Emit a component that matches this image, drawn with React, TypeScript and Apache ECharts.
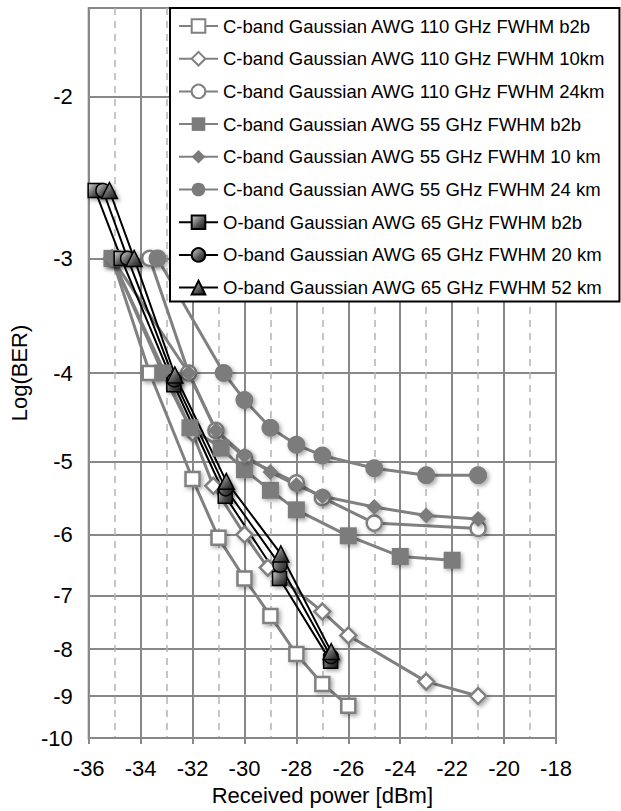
import React, { useEffect, useRef } from "react";
import * as echarts from "echarts";

// ---- data (x: received power in dBm, y: log10(BER)) ----
const seriesNames = [
  "C-band Gaussian AWG 110 GHz FWHM b2b",
  "C-band Gaussian AWG 110 GHz FWHM 10km",
  "C-band Gaussian AWG 110 GHz FWHM 24km",
  "C-band Gaussian AWG 55 GHz FWHM b2b",
  "C-band Gaussian AWG 55 GHz FWHM 10 km",
  "C-band Gaussian AWG 55 GHz FWHM 24 km",
  "O-band Gaussian AWG 65 GHz FWHM b2b",
  "O-band Gaussian AWG 65 GHz FWHM 20 km",
  "O-band Gaussian AWG 65 GHz FWHM 52 km",
];

const c110b2bX = [-35.1, -33.65, -32, -31, -30, -29, -28, -27, -26];
const c110b2bY = [-3, -4, -5.22, -6.05, -6.7, -7.36, -8.1, -8.73, -9.22];

const c110km10X = [-35.1, -32, -31.2, -30, -29.1, -27, -26, -23, -21];
const c110km10Y = [-3, -4.65, -5.31, -6.0, -6.52, -7.28, -7.73, -8.68, -9.0];

const c110km24X = [-33.65, -32.15, -31.1, -30, -28, -27, -25, -21];
const c110km24Y = [-3, -4.0, -4.62, -4.95, -5.27, -5.47, -5.83, -5.91];

const c55b2bX = [-35.1, -33.15, -32.1, -30.9, -30, -29, -28, -26, -24, -22];
const c55b2bY = [-3, -4.0, -4.59, -4.83, -5.1, -5.37, -5.64, -6.02, -6.34, -6.4];

const c55km10X = [-35.1, -32.15, -31.1, -30, -29, -28, -27, -25, -23, -21];
const c55km10Y = [-3, -4.0, -4.62, -4.92, -5.13, -5.3, -5.45, -5.6, -5.72, -5.77];

const c55km24X = [-33.35, -30.8, -30, -29, -28, -27, -25, -23, -21];
const c55km24Y = [-3, -4.0, -4.28, -4.59, -4.79, -4.92, -5.08, -5.17, -5.17];

const o65b2bX = [-35.75, -34.75, -32.72, -30.74, -28.65, -26.68];
const o65b2bY = [-2.53, -3.0, -4.12, -5.45, -6.7, -8.25];

const o65km20X = [-35.45, -34.5, -32.7, -30.72, -28.63, -26.67];
const o65km20Y = [-2.53, -3.0, -4.07, -5.35, -6.48, -8.15];

const o65km52X = [-35.2, -34.25, -32.68, -30.7, -28.6, -26.66];
const o65km52Y = [-2.53, -3.0, -4.02, -5.25, -6.3, -8.05];

const yTickLabels = [-2, -3, -4, -5, -6, -7, -8, -9, -10];
const yTop = -1.6;
const yBottom = -10;
const xMin = -36;
const xMax = -18;
const xStep = 2;

// BER axis scale: position proportional to log10(-log10(BER))
const toAxis = (L: number) => -Math.log10(-L);
const fromAxis = (v: number) => -Math.round(Math.pow(10, -v));

const zip = (xs: number[], ys: number[]) => xs.map((x, i) => [x, toAxis(ys[i])]);

const FONT = "'Liberation Sans', Arial, sans-serif";
const GRAY = "#808080";
const MARK_GRAY = "#7b7b7b";
const GRID = "#888888";

export default function App() {
  const ref = useRef<HTMLDivElement>(null);

  useEffect(() => {
    if (!ref.current) return;
    const chart = echarts.init(ref.current, undefined, { renderer: "svg" });

    const grad = () =>
      new echarts.graphic.LinearGradient(0, 0, 1, 1, [
        { offset: 0, color: "#d8d8d8" },
        { offset: 0.55, color: "#5a5a5a" },
        { offset: 1, color: "#111111" },
      ]);

    const shadow = {
      shadowColor: "rgba(0,0,0,0.35)",
      shadowBlur: 4,
      shadowOffsetX: 2,
      shadowOffsetY: 2,
    };

    const cSeries = (
      name: string,
      data: number[][],
      symbol: string,
      size: number,
      open: boolean
    ) => ({
      name,
      type: "line",
      data,
      symbol,
      symbolSize: size,
      lineStyle: { color: GRAY, width: 3 },
      itemStyle: open
        ? { color: "#ffffff", borderColor: GRAY, borderWidth: 2.5, ...shadow }
        : { color: MARK_GRAY, borderColor: MARK_GRAY, borderWidth: 0, ...shadow },
      emphasis: { disabled: true },
    });

    const oSeries = (name: string, data: number[][], symbol: string, size: number) => ({
      name,
      type: "line",
      data,
      symbol,
      symbolSize: size,
      lineStyle: { color: "#000000", width: 2 },
      itemStyle: { color: grad(), borderColor: "#000000", borderWidth: 1.5, ...shadow },
      emphasis: { disabled: true },
    });

    const option = {
      animation: false,
      backgroundColor: "#ffffff",
      textStyle: { fontFamily: FONT },
      grid: {
        left: 84,
        right: 65,
        top: 8,
        bottom: 72,
        show: true,
        borderColor: GRID,
        borderWidth: 2,
      },
      legend: {
        orient: "vertical",
        left: 170,
        top: 8,
        padding: [8, 14, 4, 8],
        backgroundColor: "#ffffff",
        borderColor: "#000000",
        borderWidth: 2,
        itemWidth: 39,
        itemHeight: 17,
        itemGap: 12.7,
        textStyle: { fontSize: 18.5, color: "#000000", fontFamily: FONT, lineHeight: 20 },
        data: seriesNames,
      },
      xAxis: {
        type: "value",
        min: xMin,
        max: xMax,
        interval: xStep,
        name: "Received power [dBm]",
        nameLocation: "middle",
        nameGap: 46,
        nameTextStyle: { fontSize: 22, color: "#000000", fontFamily: FONT },
        axisLine: { show: true, onZero: false, lineStyle: { color: GRID, width: 2 } },
        axisTick: { show: true, length: 6, lineStyle: { color: GRID, width: 2 } },
        axisLabel: { fontSize: 22, color: "#000000", margin: 19, fontFamily: FONT },
        splitLine: { show: true, lineStyle: { color: GRID, width: 2 } },
        minorTick: { show: false, splitNumber: 2 },
        minorSplitLine: {
          show: true,
          lineStyle: { color: "#b4b4b4", width: 1.5, type: [7, 6] },
        },
      },
      yAxis: {
        type: "value",
        min: toAxis(yBottom),
        max: toAxis(yTop),
        name: "Log(BER)",
        nameLocation: "middle",
        nameGap: 56,
        nameTextStyle: { fontSize: 22, color: "#000000", fontFamily: FONT },
        axisLine: { show: true, lineStyle: { color: GRID, width: 2 } },
        axisTick: {
          show: false,
          customValues: yTickLabels.map(toAxis),
        },
        axisLabel: {
          fontSize: 22,
          color: "#000000",
          margin: 16,
          fontFamily: FONT,
          customValues: yTickLabels.map(toAxis),
          formatter: (v: number) => String(fromAxis(v)),
        },
        splitLine: { show: true, lineStyle: { color: GRID, width: 2 } },
      },
      series: [
        cSeries(seriesNames[0], zip(c110b2bX, c110b2bY), "rect", 14, true),
        cSeries(seriesNames[1], zip(c110km10X, c110km10Y), "diamond", 16, true),
        cSeries(seriesNames[2], zip(c110km24X, c110km24Y), "circle", 15, true),
        cSeries(seriesNames[3], zip(c55b2bX, c55b2bY), "rect", 17, false),
        cSeries(seriesNames[4], zip(c55km10X, c55km10Y), "diamond", 16, false),
        cSeries(seriesNames[5], zip(c55km24X, c55km24Y), "circle", 18, false),
        oSeries(seriesNames[6], zip(o65b2bX, o65b2bY), "rect", 14),
        oSeries(seriesNames[7], zip(o65km20X, o65km20Y), "circle", 14),
        oSeries(seriesNames[8], zip(o65km52X, o65km52Y), "triangle", 16),
      ],
    };

    chart.setOption(option as any);
    return () => chart.dispose();
  }, []);

  return (
    <div
      ref={ref}
      style={{ position: "fixed", left: 0, top: 0, width: 621, height: 811, background: "#fff" }}
    />
  );
}
